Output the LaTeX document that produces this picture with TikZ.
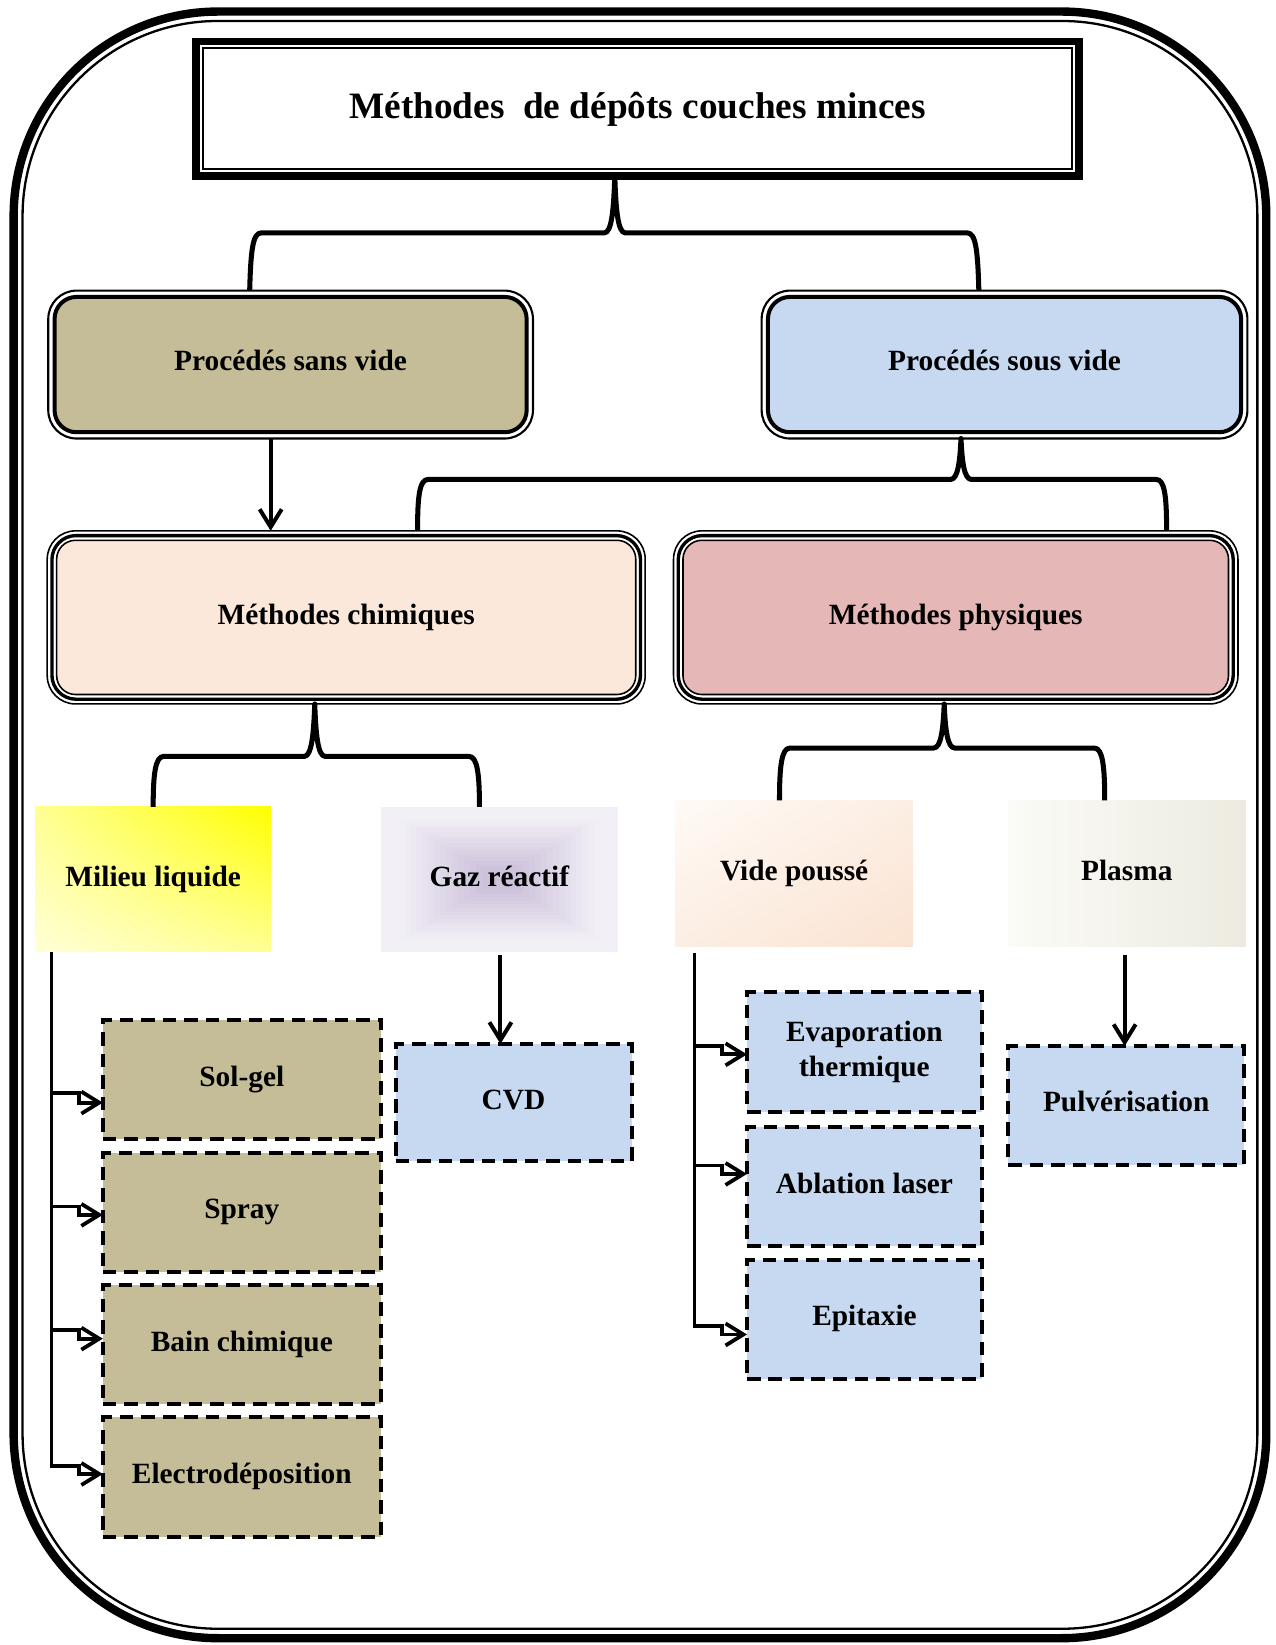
\documentclass[tikz,border=0pt]{standalone}
\usepackage{fontspec}
\setmainfont{Liberation Serif}
\usetikzlibrary{arrows.meta,shadings,calc}
\definecolor{tanc}{HTML}{C4BD97}
\definecolor{lblue}{HTML}{C6D9F1}
\definecolor{peach}{HTML}{FBE8DA}
\definecolor{rose}{HTML}{E5B8B7}
\definecolor{gazin}{HTML}{CDC1DB}
\definecolor{gazout}{HTML}{F2F0F6}
\definecolor{mlA}{HTML}{FFFF00}
\definecolor{mlB}{HTML}{FFFF94}
\definecolor{mlC}{HTML}{FFFFD6}
\definecolor{vpA}{HTML}{FFFAF6}
\definecolor{vpB}{HTML}{FCEEE3}
\definecolor{vpC}{HTML}{FBE3D2}
\definecolor{plA}{HTML}{FBFBF7}
\definecolor{plB}{HTML}{EDEBE0}
\begin{document}
\begin{tikzpicture}[x=1pt,y=-1pt,
  every node/.style={inner sep=0pt, outer sep=0pt},
  lbl/.style={font=\fontsize{28}{33}\selectfont\bfseries, align=center, text=black, text height=22pt, text depth=9.4pt},
  dbox/.style={lbl, draw, line width=3.8pt, dash pattern=on 13pt off 7.5pt, minimum width=#1},
  brc/.style={line width=4.8pt, line join=round},
  arr/.style={line width=3.8pt, -{Straight Barb[length=17pt,width=21pt]}},
  brarr/.style={line width=3.6pt, -{Straight Barb[length=17pt,width=21pt]}}
]
\useasboundingbox (0,0) rectangle (1216,1568);

% outer frame
\draw[line width=8pt, rounded corners=195pt] (13,11) rectangle (1207,1561.5);
\draw[line width=2.2pt, rounded corners=186pt] (21.5,20) rectangle (1198.5,1552.5);

% title
\node[draw, line width=7.5pt, minimum width=841.5pt, minimum height=128pt] (titleo) at (607.75,103.5) {};
\node[draw, line width=2pt, minimum width=828.5pt, minimum height=115pt, font=\fontsize{35.5}{40}\selectfont\bfseries, text height=28pt, text depth=9.5pt] (title) at (607.75,103.5) {Méthodes~~de dépôts couches minces};

% Procedes
\node[draw, fill=white, line width=2pt, rounded corners=27pt, minimum width=462pt, minimum height=141pt] (psvo) at (277,347.5) {};
\node[lbl, draw, fill=tanc, line width=3.8pt, rounded corners=21pt, minimum width=450pt, minimum height=129pt, text depth=11pt] (psv) at (277,347.5) {Procédés sans vide};
\node[draw, fill=white, line width=2pt, rounded corners=27pt, minimum width=463pt, minimum height=141pt] (psv2o) at (957.5,347.5) {};
\node[lbl, draw, fill=lblue, line width=3.8pt, rounded corners=21pt, minimum width=451pt, minimum height=129pt, text depth=11pt] (psv2) at (957.5,347.5) {Procédés sous vide};

% Methodes
\node[draw, fill=white, line width=1.5pt, rounded corners=27pt, minimum width=570pt, minimum height=165pt] (mcho) at (330,588.5) {};
\node[draw, line width=3.2pt, rounded corners=23pt, minimum width=561pt, minimum height=156pt] (mchm) at (330,588.5) {};
\node[lbl, draw, fill=peach, line width=1.5pt, rounded corners=18pt, minimum width=552pt, minimum height=147pt] (mch) at (330,588.5) {Méthodes chimiques};
\node[draw, fill=white, line width=1.5pt, rounded corners=27pt, minimum width=538pt, minimum height=165pt] (mpho) at (911,588.5) {};
\node[draw, line width=3.2pt, rounded corners=23pt, minimum width=529pt, minimum height=156pt] (mphm) at (911,588.5) {};
\node[lbl, draw, fill=rose, line width=1.5pt, rounded corners=18pt, minimum width=520pt, minimum height=147pt] (mph) at (911,588.5) {Méthodes physiques};

% categories
\node[lbl, shade, shading=bilinear interpolation, upper right=mlA, upper left=mlB, lower right=mlB, lower left=mlC, minimum width=224pt, minimum height=138pt, text depth=8pt] (ml) at (146,838) {Milieu liquide};
% rectangular "from centre" gradient for Gaz reactif
\foreach \i in {0,...,19}{
  \pgfmathsetmacro{\tt}{1-\i/20}
  \pgfmathtruncatemacro{\pp}{max(0,min(100,100*(1-(\tt-0.15)/0.72)))}
  \fill[gazin!\pp!gazout] ({476-113*\tt},{838-69*\tt}) rectangle ({476+113*\tt},{838+69*\tt});
}
\node[lbl, minimum width=226pt, minimum height=138pt, text depth=8pt] (gaz) at (476,838) {Gaz réactif};
\node[lbl, shade, shading=bilinear interpolation, upper left=vpA, upper right=vpB, lower left=vpB, lower right=vpC, minimum width=226pt, minimum height=139pt] (vp) at (757,832.5) {Vide poussé};
\node[lbl, shade, left color=plA, right color=plB, minimum width=226pt, minimum height=139pt] (pl) at (1074,832.5) {Plasma};

% dashed boxes
\node[dbox=265pt, fill=tanc, minimum height=114pt] (sg) at (230.5,1029) {Sol-gel};
\node[dbox=265pt, fill=tanc, minimum height=113pt] (sp) at (230.5,1155.5) {Spray};
\node[dbox=265pt, fill=tanc, minimum height=113pt] (bc) at (230.5,1281.5) {Bain chimique};
\node[dbox=265pt, fill=tanc, minimum height=114pt] (ed) at (230.5,1408) {Electrodéposition};
\node[dbox=225pt, fill=lblue, minimum height=112pt] (cvd) at (489.5,1051) {CVD};
\node[dbox=224pt, fill=lblue, minimum height=114pt, text height=, text depth=] (ev) at (824,1002.5) {Evaporation\\thermique};
\node[dbox=224pt, fill=lblue, minimum height=114pt] (ab) at (824,1131) {Ablation laser};
\node[dbox=224pt, fill=lblue, minimum height=113pt] (ep) at (824,1257.5) {Epitaxie};
\node[dbox=225pt, fill=lblue, minimum height=113pt] (pu) at (1073.5,1053.5) {Pulvérisation};

% braces
\draw[brc] (238,0 |- psvo.north) .. controls (239,238) and (241,222) .. (249,222) -- (576,222) .. controls (583,222) and (585,200) .. (586,0 |- titleo.south) .. controls (587,200) and (589,222) .. (596,222) -- (922,222) .. controls (930,222) and (932,238) .. (933,0 |- psv2o.north);
\draw[brc] (398,0 |- mcho.north) .. controls (398,472) and (400,457) .. (408,457) -- (906,457) .. controls (913,457) and (915,440) .. (916,0 |- psv2o.south) .. controls (917,440) and (919,457) .. (926,457) -- (1102,457) .. controls (1110,457) and (1112,472) .. (1112,0 |- mpho.north);
\draw[brc] (146,0 |- ml.north) .. controls (146,738) and (148,721) .. (156,721) -- (290,721) .. controls (297,721) and (299,700) .. (300,0 |- mcho.south) .. controls (301,700) and (303,721) .. (310,721) -- (447,721) .. controls (455,721) and (457,738) .. (457,0 |- gaz.north);
\draw[brc] (743,0 |- vp.north) .. controls (743,730) and (745,713) .. (753,713) -- (890,713) .. controls (897,713) and (899,695) .. (900,0 |- mpho.south) .. controls (901,695) and (903,713) .. (910,713) -- (1043,713) .. controls (1051,713) and (1053,730) .. (1053,0 |- pl.north);

% straight arrows
\draw[arr] (258,0 |- psvo.south) -- (258,0 |- mcho.north);
\draw[arr] (477,910) -- (477,0 |- cvd.north);
\draw[arr] (1072,910) -- (1072,0 |- pu.north);

% branch connectors: milieu liquide
\coordinate (mlb1) at (49,1042);
\coordinate (mlb2) at (49,1150);
\coordinate (mlb3) at (49,1268);
\draw[line width=3.6pt] (49,0 |- ml.south) -- (49,1397);
\draw[brarr] (mlb1) -- (75,1042) -- (75,1051) -- (sg.west |- 0,1051);
\draw[brarr] (mlb2) -- (75,1150) -- (75,1158) -- (sp.west |- 0,1158);
\draw[brarr] (mlb3) -- (75,1268) -- (75,1276) -- (bc.west |- 0,1276);
\draw[brarr] (49,1395.2) -- (49,1397) -- (75,1397) -- (75,1405) -- (ed.west |- 0,1405);

% branch connectors: vide pousse
\coordinate (vpb1) at (662,997);
\coordinate (vpb2) at (662,1111);
\draw[line width=3.6pt] (662,908) -- (662,1264);
\draw[brarr] (vpb1) -- (688,997) -- (688,1005) -- (ev.west |- 0,1005);
\draw[brarr] (vpb2) -- (688,1111) -- (688,1119) -- (ab.west |- 0,1119);
\draw[brarr] (662,1262.2) -- (662,1264) -- (688,1264) -- (688,1272) -- (ep.west |- 0,1272);
\end{tikzpicture}
\end{document}
